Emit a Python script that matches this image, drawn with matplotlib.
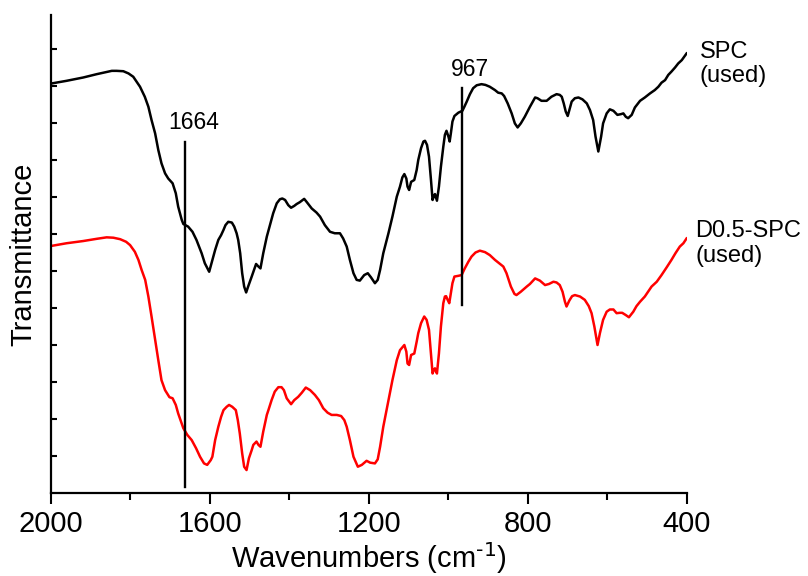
import numpy as np
import matplotlib
matplotlib.use("Agg")
import matplotlib.pyplot as plt

plt.rcParams['font.family'] = ['Liberation Sans', 'DejaVu Sans']
plt.rcParams['mathtext.default'] = 'regular'

# SPC (used): wavenumber (cm-1) and transmittance (a.u.)
wn_spc = [1998, 1961, 1919, 1885, 1868, 1847, 1835, 1818, 1805, 1793, 1776, 1764,
          1755, 1747, 1738, 1730, 1722, 1713, 1705, 1694, 1686, 1680, 1671, 1667,
          1655, 1644, 1634, 1621, 1613, 1602,
          1594, 1587, 1579, 1572, 1566, 1561, 1554, 1545, 1539, 1533, 1529, 1524,
          1519, 1514, 1509, 1504, 1495, 1488, 1484, 1478, 1473, 1466, 1457, 1449,
          1441, 1432, 1424, 1418, 1411, 1403, 1396, 1388, 1382, 1374, 1363, 1357,
          1344, 1332, 1323, 1311, 1298, 1286, 1273, 1265, 1256, 1248, 1239, 1231,
          1223, 1212, 1203, 1195,
          1185, 1178, 1172, 1164, 1151, 1141, 1130, 1122, 1116, 1111, 1106, 1103,
          1099, 1094, 1086, 1080, 1076, 1069, 1063, 1059, 1054, 1049, 1044, 1040,
          1037, 1034, 1032, 1029, 1024, 1019, 1013, 1009, 1005, 1000, 997, 994,
          990, 985, 975, 965, 960, 954, 946, 938, 929, 917, 907, 896, 883, 875,
          866, 860, 851, 841, 833, 826, 818, 808, 795,
          782, 776, 766, 753, 741, 728, 720, 715, 710, 705, 700, 696, 690, 682,
          673, 663, 652, 644, 636, 630, 623, 616, 611, 602, 594, 585, 575, 566,
          560, 554, 548, 539, 531, 518, 506, 493, 481, 472, 464, 455, 447, 439,
          430, 422, 413, 407, 401]
t_spc = [11.07, 11.14, 11.23, 11.32, 11.36, 11.41, 11.41, 11.40, 11.34, 11.25, 10.98, 10.71,
         10.44, 10.08, 9.72, 9.27, 8.91, 8.64, 8.50, 8.37, 8.10, 7.74, 7.38, 7.27,
         7.20, 7.06, 6.84, 6.48, 6.21, 5.98,
         6.30, 6.57, 6.84, 6.97, 7.11, 7.24, 7.33, 7.31, 7.20, 7.02, 6.84, 6.48,
         5.94, 5.58, 5.42, 5.58, 5.85, 6.07, 6.19, 6.12, 6.07, 6.48, 6.93, 7.24,
         7.56, 7.83, 7.94, 7.96, 7.92, 7.78, 7.71, 7.76, 7.81, 7.86, 7.95, 7.87,
         7.69, 7.58, 7.47, 7.24, 7.06, 7.02, 7.02, 6.88, 6.66, 6.30, 5.94, 5.76,
         5.74, 5.89, 5.94, 5.83,
         5.67, 5.76, 6.03, 6.48, 7.02, 7.47, 8.01, 8.28, 8.53, 8.62, 8.50, 8.28,
         8.19, 8.41, 8.46, 8.73, 9.00, 9.32, 9.50, 9.52, 9.41, 9.09, 8.46, 7.92,
         8.01, 8.08, 8.01, 7.90, 8.28, 8.82, 9.36, 9.68, 9.79, 9.63, 9.50, 9.72,
         10.04, 10.19, 10.28, 10.33, 10.44, 10.58, 10.78, 10.94, 11.02, 11.05, 11.03, 10.98, 10.89, 10.82,
         10.80, 10.73, 10.53, 10.26, 9.99, 9.88, 9.99, 10.17, 10.44,
         10.69, 10.67, 10.60, 10.60, 10.71, 10.78, 10.76, 10.71, 10.53, 10.31, 10.19, 10.35, 10.58, 10.67,
         10.69, 10.64, 10.53, 10.35, 10.08, 9.63, 9.23, 9.63, 9.99, 10.26, 10.37, 10.33, 10.22, 10.24,
         10.26, 10.17, 10.13, 10.22, 10.42, 10.60, 10.69, 10.80, 10.89, 10.98, 11.09, 11.16, 11.30, 11.39,
         11.50, 11.61, 11.70, 11.79, 11.88]

# D0.5-SPC (used)
wn_d05 = [1998, 1961, 1919, 1885, 1860, 1843, 1826, 1811, 1801, 1789, 1780, 1772,
          1763, 1755, 1747, 1738, 1730, 1722, 1713, 1702, 1694, 1686, 1680, 1673,
          1667, 1657, 1646, 1635, 1625, 1615, 1607, 1598,
          1594, 1587, 1579, 1572, 1566, 1558, 1552, 1544, 1535, 1530, 1525, 1519,
          1514, 1508, 1502, 1495, 1491, 1483, 1478, 1473, 1466, 1457, 1453, 1445,
          1437, 1428, 1420, 1414, 1407, 1396, 1388, 1378, 1369, 1359, 1348, 1336,
          1326, 1315, 1304, 1294, 1281, 1270, 1262, 1256, 1248, 1239, 1228, 1218,
          1206, 1197,
          1185, 1178, 1172, 1164, 1151, 1141, 1130, 1122, 1111, 1106, 1103, 1099,
          1094, 1086, 1080, 1076, 1069, 1061, 1055, 1049, 1044, 1040, 1037, 1034,
          1032, 1029, 1024, 1019, 1013, 1009, 1006, 1002, 998, 994, 990, 985, 975,
          967, 959, 950, 942, 932, 921, 908, 896, 883, 870, 862, 854, 843, 834,
          829, 818, 803,
          795, 782, 770, 757, 747, 736, 728, 720, 713, 707, 703, 696, 689,
          682, 669, 657, 647, 640, 633, 625, 619, 611, 602, 594, 585, 577, 569,
          563, 554, 546, 535, 527, 518, 506, 489, 476, 464, 451, 439, 429, 418,
          409, 401]
t_d05 = [6.68, 6.75, 6.81, 6.87, 6.91, 6.90, 6.86, 6.79, 6.70, 6.52, 6.30, 6.03,
         5.76, 5.31, 4.77, 4.14, 3.59, 3.05, 2.78, 2.59, 2.56, 2.38, 2.15, 1.93,
         1.75, 1.57, 1.43, 1.21, 0.98, 0.80, 0.76, 0.89,
         0.98, 1.43, 1.79, 2.06, 2.24, 2.33, 2.38, 2.33, 2.24, 1.97, 1.61, 1.07,
         0.71, 0.62, 0.94, 1.16, 1.30, 1.39, 1.30, 1.25, 1.66, 2.11, 2.24, 2.51,
         2.74, 2.86, 2.86, 2.78, 2.56, 2.40, 2.51, 2.60, 2.71, 2.85, 2.78, 2.65,
         2.51, 2.29, 2.17, 2.11, 2.11, 2.08, 1.97, 1.79, 1.43, 0.98, 0.71, 0.76,
         0.87, 0.82,
         0.80, 0.91, 1.25, 1.79, 2.51, 3.05, 3.59, 3.86, 4.00, 3.82, 3.50, 3.46,
         3.73, 3.77, 4.09, 4.32, 4.59, 4.77, 4.68, 4.41, 3.77, 3.23, 3.32, 3.37,
         3.31, 3.23, 3.77, 4.50, 5.13, 5.31, 5.32, 5.22, 5.13, 5.40, 5.67, 5.85, 5.87,
         5.89, 6.07, 6.25, 6.39, 6.50, 6.55, 6.51, 6.43, 6.30, 6.19, 6.12, 5.94, 5.58, 5.38,
         5.35, 5.44, 5.58,
         5.65, 5.80, 5.74, 5.62, 5.65, 5.71, 5.69, 5.62, 5.44, 5.17, 5.04, 5.20, 5.32,
         5.35, 5.31, 5.22, 5.05, 4.86, 4.50, 4.00, 4.32, 4.68, 4.90, 4.96, 4.96, 4.86, 4.87,
         4.87, 4.81, 4.75, 4.90, 5.05, 5.17, 5.31, 5.58, 5.71, 5.89, 6.10, 6.30, 6.48, 6.66,
         6.75, 6.88]

# marked bands and the vertical extent of their guide lines
marks = [1664, 967]
mark_ranges = [(0.16, 9.49), (5.08, 10.94)]

fig = plt.figure(figsize=(8.08, 5.76), dpi=100)
ax = fig.add_axes([0.0631, 0.1441, 0.7871, 0.8299])

ax.plot(wn_spc, t_spc, color='black', lw=1.8, solid_joinstyle='round')
ax.plot(wn_d05, t_d05, color='red', lw=1.8, solid_joinstyle='round')

for m, (y0, y1) in zip(marks, mark_ranges):
    ax.plot([m, m], [y0, y1], color='black', lw=1.7)
    ax.text(m - 22, y1 + 0.2, str(m), ha='center', va='bottom', fontsize=16.5)

ax.text(1.02, 11.6, 'SPC\n(used)', transform=ax.get_yaxis_transform(),
        ha='left', va='center', fontsize=17, linespacing=1.15)
ax.text(1.013, 6.75, 'D0.5-SPC\n(used)', transform=ax.get_yaxis_transform(),
        ha='left', va='center', fontsize=17, linespacing=1.15)

ax.set_xlim(2000, 400)
ax.set_ylim(0, 12.92)
ax.set_xticks([2000, 1600, 1200, 800, 400])
ax.set_xticks([1800, 1400, 1000, 600], minor=True)
ax.set_yticks(np.arange(1, 13))
ax.set_yticklabels([])
ax.tick_params(axis='x', which='major', direction='out', length=8, width=1.5,
               labelsize=21, pad=4)
ax.tick_params(axis='x', which='minor', direction='out', length=5, width=1.5)
ax.tick_params(axis='y', direction='in', length=4, width=1.5)

for side in ['top', 'right']:
    ax.spines[side].set_visible(False)
for side in ['left', 'bottom']:
    ax.spines[side].set_linewidth(1.6)

ax.set_xlabel(r'Wavenumbers (cm$^{\text{-1}}$)', fontsize=21, labelpad=2)
ax.set_ylabel('Transmittance', fontsize=21, labelpad=6)

fig.savefig('out.png', dpi=100)
